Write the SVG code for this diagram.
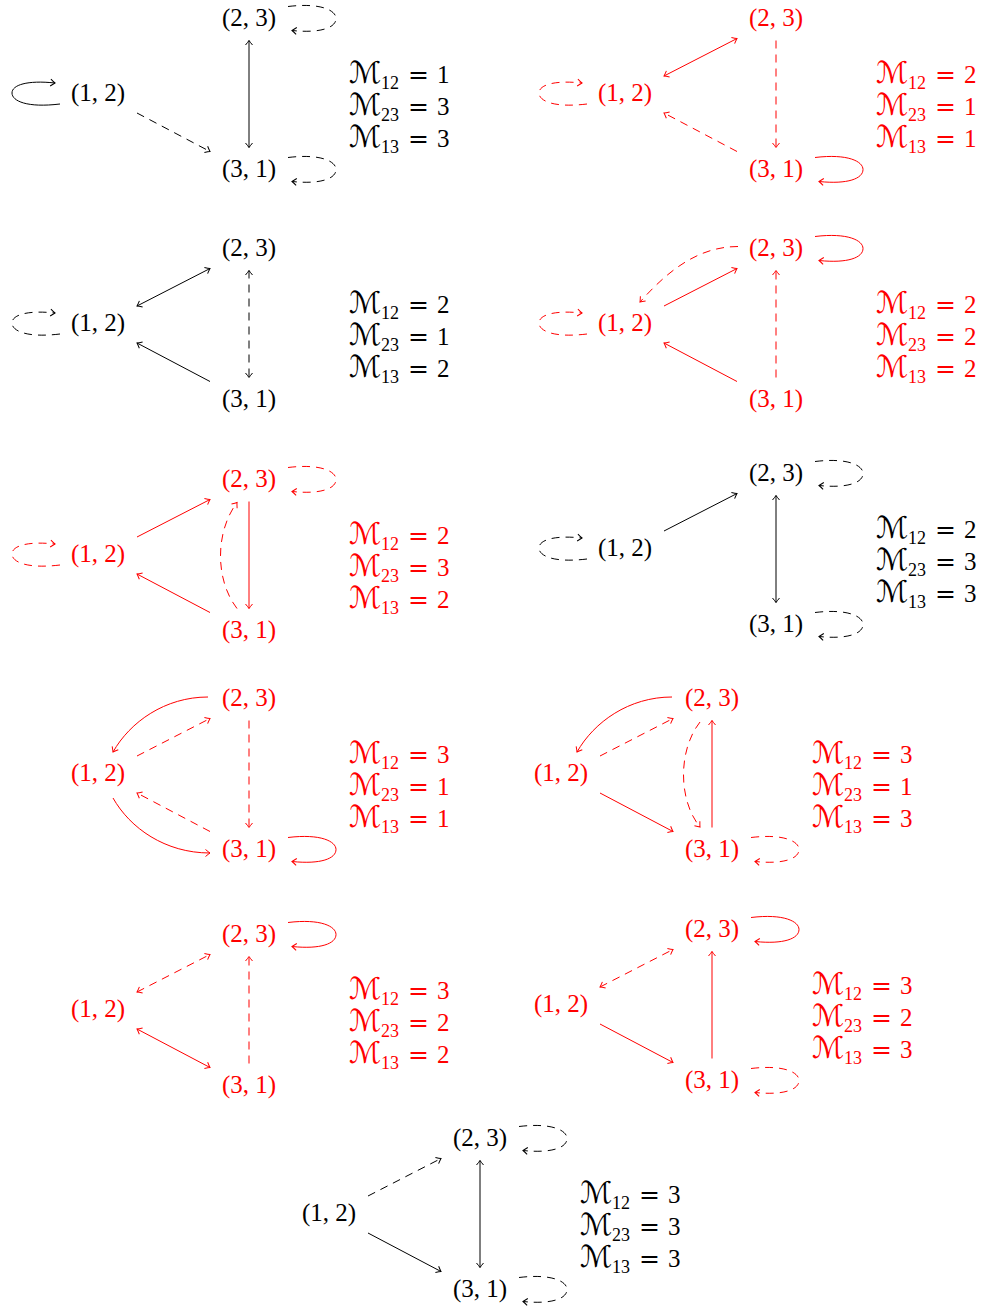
<svg xmlns="http://www.w3.org/2000/svg" width="985" height="1311" viewBox="0 0 985 1311">
<style>
.t{font-family:"Liberation Serif","DejaVu Serif",serif;font-size:25px;text-anchor:middle}
.m{font-family:"Liberation Serif","DejaVu Serif",serif;font-size:25px}
.cal{font-family:"DejaVu Serif","DejaVu Sans",serif;font-size:30px}
.sub{font-size:18px}
.eq{font-family:"DejaVu Serif",serif}
.tk{fill:#000}.tr{fill:#f00}
.e{fill:none;stroke-width:1}
.k{stroke:#000}.r{stroke:#f00}
.d{stroke-dasharray:8 6}
.ek{marker-end:url(#ak)}.er{marker-end:url(#ar)}
.bk{marker-start:url(#ak);marker-end:url(#ak)}.br{marker-start:url(#ar);marker-end:url(#ar)}
</style>
<defs>
<marker id="ak" viewBox="-6 -5 8 10" markerWidth="8" markerHeight="10" refX="0" refY="0" orient="auto-start-reverse" markerUnits="userSpaceOnUse"><path d="M-4.5,-3.5 Q-1.5,-1 0,0 Q-1.5,1 -4.5,3.5" fill="none" stroke="#000" stroke-width="1" stroke-dasharray="none"/></marker>
<marker id="ar" viewBox="-6 -5 8 10" markerWidth="8" markerHeight="10" refX="0" refY="0" orient="auto-start-reverse" markerUnits="userSpaceOnUse"><path d="M-4.5,-3.5 Q-1.5,-1 0,0 Q-1.5,1 -4.5,3.5" fill="none" stroke="#f00" stroke-width="1" stroke-dasharray="none"/></marker>
</defs>

<g id="connectors">
<!-- P1 -->
<path class="e k d ek" d="M137,113 L210,151.5"/>
<path class="e k bk" d="M249,40.5 L249,147.5"/>
<path class="e k ek" d="M60,104 C27,108 12,101 12,93 C12,85 27,80 55,83"/>
<path class="e k d ek" d="M288,6.5 C321,2.5 336,10.5 336,18.5 C336,27.5 321,33.5 292,30.5"/>
<path class="e k d ek" d="M288,157.5 C321,153.5 336,161.5 336,169.5 C336,178.5 321,184.5 292,181.5"/>
<!-- P2 -->
<path class="e r br" d="M664,76 L737,38.5"/>
<path class="e r d er" d="M776,40.5 L776,147.5"/>
<path class="e r d er" d="M737,151.5 L664,113"/>
<path class="e r d er" d="M587,104 C554,108 539,101 539,93 C539,85 554,80 582,83"/>
<path class="e r er" d="M815,157.5 C848,153.5 863,161.5 863,169.5 C863,178.5 848,184.5 819,181.5"/>
<!-- P3 -->
<path class="e k bk" d="M137,306 L210,268.5"/>
<path class="e k d bk" d="M249,270.5 L249,377.5"/>
<path class="e k ek" d="M210,381.5 L137,343"/>
<path class="e k d ek" d="M60,334 C27,338 12,331 12,323 C12,315 27,310 55,313"/>
<!-- P4 -->
<path class="e r er" d="M664,306 L737,268.5"/>
<path class="e r d er" d="M738,246.5 C696,246.5 665,274 640,302"/>
<path class="e r d er" d="M776,377.5 L776,270.5"/>
<path class="e r er" d="M737,381.5 L664,343"/>
<path class="e r d er" d="M587,334 C554,338 539,331 539,323 C539,315 554,310 582,313"/>
<path class="e r er" d="M815,236.5 C848,232.5 863,240.5 863,248.5 C863,257.5 848,263.5 819,260.5"/>
<!-- P5 -->
<path class="e r er" d="M137,537 L210,499.5"/>
<path class="e r d er" d="M237,608.5 C215,580 215,532 237,502.5"/>
<path class="e r er" d="M249,501.5 L249,608.5"/>
<path class="e r er" d="M210,612.5 L137,574"/>
<path class="e r d er" d="M60,565 C27,569 12,562 12,554 C12,546 27,541 55,544"/>
<path class="e r d er" d="M288,467.5 C321,463.5 336,471.5 336,479.5 C336,488.5 321,494.5 292,491.5"/>
<!-- P6 -->
<path class="e k ek" d="M664,531 L737,493.5"/>
<path class="e k bk" d="M776,495.5 L776,602.5"/>
<path class="e k d ek" d="M587,559 C554,563 539,556 539,548 C539,540 554,535 582,538"/>
<path class="e k d ek" d="M815,461.5 C848,457.5 863,465.5 863,473.5 C863,482.5 848,488.5 819,485.5"/>
<path class="e k d ek" d="M815,612.5 C848,608.5 863,616.5 863,624.5 C863,633.5 848,639.5 819,636.5"/>
<!-- P7 -->
<path class="e r er" d="M208,697 C165,697 130,722 113,752"/>
<path class="e r d er" d="M137,756 L210,718.5"/>
<path class="e r d er" d="M249,720.5 L249,827.5"/>
<path class="e r d er" d="M210,831.5 L137,793"/>
<path class="e r er" d="M113,798 C130,828 165,853 210,853"/>
<path class="e r er" d="M288,837.5 C321,833.5 336,841.5 336,849.5 C336,858.5 321,864.5 292,861.5"/>
<!-- P8 -->
<path class="e r er" d="M672,697 C629,697 594,722 577,752"/>
<path class="e r d er" d="M600,756 L673,718.5"/>
<path class="e r d er" d="M700,722 C678,750 678,800 700,827"/>
<path class="e r er" d="M712,827.5 L712,720.5"/>
<path class="e r er" d="M600,793 L673,831.5"/>
<path class="e r d er" d="M751,837.5 C784,833.5 799,841.5 799,849.5 C799,858.5 784,864.5 755,861.5"/>
<!-- P9 -->
<path class="e r d br" d="M137,992 L210,954.5"/>
<path class="e r d er" d="M249,1063.5 L249,956.5"/>
<path class="e r br" d="M137,1029 L210,1067.5"/>
<path class="e r er" d="M288,922.5 C321,918.5 336,926.5 336,934.5 C336,943.5 321,949.5 292,946.5"/>
<!-- P10 -->
<path class="e r d br" d="M600,987 L673,949.5"/>
<path class="e r er" d="M712,1058.5 L712,951.5"/>
<path class="e r er" d="M600,1024 L673,1062.5"/>
<path class="e r er" d="M751,917.5 C784,913.5 799,921.5 799,929.5 C799,938.5 784,944.5 755,941.5"/>
<path class="e r d er" d="M751,1068.5 C784,1064.5 799,1072.5 799,1080.5 C799,1089.5 784,1095.5 755,1092.5"/>
<!-- P11 -->
<path class="e k d ek" d="M368,1196 L441,1158.5"/>
<path class="e k ek" d="M368,1233 L441,1271.5"/>
<path class="e k bk" d="M480,1160.5 L480,1267.5"/>
<path class="e k d ek" d="M519,1126.5 C552,1122.5 567,1130.5 567,1138.5 C567,1147.5 552,1153.5 523,1150.5"/>
<path class="e k d ek" d="M519,1277.5 C552,1273.5 567,1281.5 567,1289.5 C567,1298.5 552,1304.5 523,1301.5"/>
</g>

<!-- P1 -->
<g id="p1-n12"><text class="t tk" x="98" y="101">(1, 2)</text></g>
<g id="p1-n23"><text class="t tk" x="249" y="25.5">(2, 3)</text></g>
<g id="p1-n31"><text class="t tk" x="249" y="176.5">(3, 1)</text></g>
<g id="p1-label" class="tk">
<text class="m" x="349" y="83"><tspan class="cal">ℳ</tspan><tspan class="sub" dy="6">12</tspan><tspan class="eq" x="408" dy="-6">=</tspan><tspan x="437">1</tspan></text>
<text class="m" x="349" y="115"><tspan class="cal">ℳ</tspan><tspan class="sub" dy="6">23</tspan><tspan class="eq" x="408" dy="-6">=</tspan><tspan x="437">3</tspan></text>
<text class="m" x="349" y="147"><tspan class="cal">ℳ</tspan><tspan class="sub" dy="6">13</tspan><tspan class="eq" x="408" dy="-6">=</tspan><tspan x="437">3</tspan></text>
</g>
<!-- P2 -->
<g id="p2-n12"><text class="t tr" x="625" y="101">(1, 2)</text></g>
<g id="p2-n23"><text class="t tr" x="776" y="25.5">(2, 3)</text></g>
<g id="p2-n31"><text class="t tr" x="776" y="176.5">(3, 1)</text></g>
<g id="p2-label" class="tr">
<text class="m" x="876" y="83"><tspan class="cal">ℳ</tspan><tspan class="sub" dy="6">12</tspan><tspan class="eq" x="935" dy="-6">=</tspan><tspan x="964">2</tspan></text>
<text class="m" x="876" y="115"><tspan class="cal">ℳ</tspan><tspan class="sub" dy="6">23</tspan><tspan class="eq" x="935" dy="-6">=</tspan><tspan x="964">1</tspan></text>
<text class="m" x="876" y="147"><tspan class="cal">ℳ</tspan><tspan class="sub" dy="6">13</tspan><tspan class="eq" x="935" dy="-6">=</tspan><tspan x="964">1</tspan></text>
</g>
<!-- P3 -->
<g id="p3-n12"><text class="t tk" x="98" y="331">(1, 2)</text></g>
<g id="p3-n23"><text class="t tk" x="249" y="255.5">(2, 3)</text></g>
<g id="p3-n31"><text class="t tk" x="249" y="406.5">(3, 1)</text></g>
<g id="p3-label" class="tk">
<text class="m" x="349" y="313"><tspan class="cal">ℳ</tspan><tspan class="sub" dy="6">12</tspan><tspan class="eq" x="408" dy="-6">=</tspan><tspan x="437">2</tspan></text>
<text class="m" x="349" y="345"><tspan class="cal">ℳ</tspan><tspan class="sub" dy="6">23</tspan><tspan class="eq" x="408" dy="-6">=</tspan><tspan x="437">1</tspan></text>
<text class="m" x="349" y="377"><tspan class="cal">ℳ</tspan><tspan class="sub" dy="6">13</tspan><tspan class="eq" x="408" dy="-6">=</tspan><tspan x="437">2</tspan></text>
</g>
<!-- P4 -->
<g id="p4-n12"><text class="t tr" x="625" y="331">(1, 2)</text></g>
<g id="p4-n23"><text class="t tr" x="776" y="255.5">(2, 3)</text></g>
<g id="p4-n31"><text class="t tr" x="776" y="406.5">(3, 1)</text></g>
<g id="p4-label" class="tr">
<text class="m" x="876" y="313"><tspan class="cal">ℳ</tspan><tspan class="sub" dy="6">12</tspan><tspan class="eq" x="935" dy="-6">=</tspan><tspan x="964">2</tspan></text>
<text class="m" x="876" y="345"><tspan class="cal">ℳ</tspan><tspan class="sub" dy="6">23</tspan><tspan class="eq" x="935" dy="-6">=</tspan><tspan x="964">2</tspan></text>
<text class="m" x="876" y="377"><tspan class="cal">ℳ</tspan><tspan class="sub" dy="6">13</tspan><tspan class="eq" x="935" dy="-6">=</tspan><tspan x="964">2</tspan></text>
</g>
<!-- P5 -->
<g id="p5-n12"><text class="t tr" x="98" y="562">(1, 2)</text></g>
<g id="p5-n23"><text class="t tr" x="249" y="486.5">(2, 3)</text></g>
<g id="p5-n31"><text class="t tr" x="249" y="637.5">(3, 1)</text></g>
<g id="p5-label" class="tr">
<text class="m" x="349" y="544"><tspan class="cal">ℳ</tspan><tspan class="sub" dy="6">12</tspan><tspan class="eq" x="408" dy="-6">=</tspan><tspan x="437">2</tspan></text>
<text class="m" x="349" y="576"><tspan class="cal">ℳ</tspan><tspan class="sub" dy="6">23</tspan><tspan class="eq" x="408" dy="-6">=</tspan><tspan x="437">3</tspan></text>
<text class="m" x="349" y="608"><tspan class="cal">ℳ</tspan><tspan class="sub" dy="6">13</tspan><tspan class="eq" x="408" dy="-6">=</tspan><tspan x="437">2</tspan></text>
</g>
<!-- P6 -->
<g id="p6-n12"><text class="t tk" x="625" y="556">(1, 2)</text></g>
<g id="p6-n23"><text class="t tk" x="776" y="480.5">(2, 3)</text></g>
<g id="p6-n31"><text class="t tk" x="776" y="631.5">(3, 1)</text></g>
<g id="p6-label" class="tk">
<text class="m" x="876" y="538"><tspan class="cal">ℳ</tspan><tspan class="sub" dy="6">12</tspan><tspan class="eq" x="935" dy="-6">=</tspan><tspan x="964">2</tspan></text>
<text class="m" x="876" y="570"><tspan class="cal">ℳ</tspan><tspan class="sub" dy="6">23</tspan><tspan class="eq" x="935" dy="-6">=</tspan><tspan x="964">3</tspan></text>
<text class="m" x="876" y="602"><tspan class="cal">ℳ</tspan><tspan class="sub" dy="6">13</tspan><tspan class="eq" x="935" dy="-6">=</tspan><tspan x="964">3</tspan></text>
</g>
<!-- P7 -->
<g id="p7-n12"><text class="t tr" x="98" y="781">(1, 2)</text></g>
<g id="p7-n23"><text class="t tr" x="249" y="705.5">(2, 3)</text></g>
<g id="p7-n31"><text class="t tr" x="249" y="856.5">(3, 1)</text></g>
<g id="p7-label" class="tr">
<text class="m" x="349" y="763"><tspan class="cal">ℳ</tspan><tspan class="sub" dy="6">12</tspan><tspan class="eq" x="408" dy="-6">=</tspan><tspan x="437">3</tspan></text>
<text class="m" x="349" y="795"><tspan class="cal">ℳ</tspan><tspan class="sub" dy="6">23</tspan><tspan class="eq" x="408" dy="-6">=</tspan><tspan x="437">1</tspan></text>
<text class="m" x="349" y="827"><tspan class="cal">ℳ</tspan><tspan class="sub" dy="6">13</tspan><tspan class="eq" x="408" dy="-6">=</tspan><tspan x="437">1</tspan></text>
</g>
<!-- P8 -->
<g id="p8-n12"><text class="t tr" x="561" y="781">(1, 2)</text></g>
<g id="p8-n23"><text class="t tr" x="712" y="705.5">(2, 3)</text></g>
<g id="p8-n31"><text class="t tr" x="712" y="856.5">(3, 1)</text></g>
<g id="p8-label" class="tr">
<text class="m" x="812" y="763"><tspan class="cal">ℳ</tspan><tspan class="sub" dy="6">12</tspan><tspan class="eq" x="871" dy="-6">=</tspan><tspan x="900">3</tspan></text>
<text class="m" x="812" y="795"><tspan class="cal">ℳ</tspan><tspan class="sub" dy="6">23</tspan><tspan class="eq" x="871" dy="-6">=</tspan><tspan x="900">1</tspan></text>
<text class="m" x="812" y="827"><tspan class="cal">ℳ</tspan><tspan class="sub" dy="6">13</tspan><tspan class="eq" x="871" dy="-6">=</tspan><tspan x="900">3</tspan></text>
</g>
<!-- P9 -->
<g id="p9-n12"><text class="t tr" x="98" y="1017">(1, 2)</text></g>
<g id="p9-n23"><text class="t tr" x="249" y="941.5">(2, 3)</text></g>
<g id="p9-n31"><text class="t tr" x="249" y="1092.5">(3, 1)</text></g>
<g id="p9-label" class="tr">
<text class="m" x="349" y="999"><tspan class="cal">ℳ</tspan><tspan class="sub" dy="6">12</tspan><tspan class="eq" x="408" dy="-6">=</tspan><tspan x="437">3</tspan></text>
<text class="m" x="349" y="1031"><tspan class="cal">ℳ</tspan><tspan class="sub" dy="6">23</tspan><tspan class="eq" x="408" dy="-6">=</tspan><tspan x="437">2</tspan></text>
<text class="m" x="349" y="1063"><tspan class="cal">ℳ</tspan><tspan class="sub" dy="6">13</tspan><tspan class="eq" x="408" dy="-6">=</tspan><tspan x="437">2</tspan></text>
</g>
<!-- P10 -->
<g id="p10-n12"><text class="t tr" x="561" y="1012">(1, 2)</text></g>
<g id="p10-n23"><text class="t tr" x="712" y="936.5">(2, 3)</text></g>
<g id="p10-n31"><text class="t tr" x="712" y="1087.5">(3, 1)</text></g>
<g id="p10-label" class="tr">
<text class="m" x="812" y="994"><tspan class="cal">ℳ</tspan><tspan class="sub" dy="6">12</tspan><tspan class="eq" x="871" dy="-6">=</tspan><tspan x="900">3</tspan></text>
<text class="m" x="812" y="1026"><tspan class="cal">ℳ</tspan><tspan class="sub" dy="6">23</tspan><tspan class="eq" x="871" dy="-6">=</tspan><tspan x="900">2</tspan></text>
<text class="m" x="812" y="1058"><tspan class="cal">ℳ</tspan><tspan class="sub" dy="6">13</tspan><tspan class="eq" x="871" dy="-6">=</tspan><tspan x="900">3</tspan></text>
</g>
<!-- P11 -->
<g id="p11-n12"><text class="t tk" x="329" y="1221">(1, 2)</text></g>
<g id="p11-n23"><text class="t tk" x="480" y="1145.5">(2, 3)</text></g>
<g id="p11-n31"><text class="t tk" x="480" y="1296.5">(3, 1)</text></g>
<g id="p11-label" class="tk">
<text class="m" x="580" y="1203"><tspan class="cal">ℳ</tspan><tspan class="sub" dy="6">12</tspan><tspan class="eq" x="639" dy="-6">=</tspan><tspan x="668">3</tspan></text>
<text class="m" x="580" y="1235"><tspan class="cal">ℳ</tspan><tspan class="sub" dy="6">23</tspan><tspan class="eq" x="639" dy="-6">=</tspan><tspan x="668">3</tspan></text>
<text class="m" x="580" y="1267"><tspan class="cal">ℳ</tspan><tspan class="sub" dy="6">13</tspan><tspan class="eq" x="639" dy="-6">=</tspan><tspan x="668">3</tspan></text>
</g>
</svg>
